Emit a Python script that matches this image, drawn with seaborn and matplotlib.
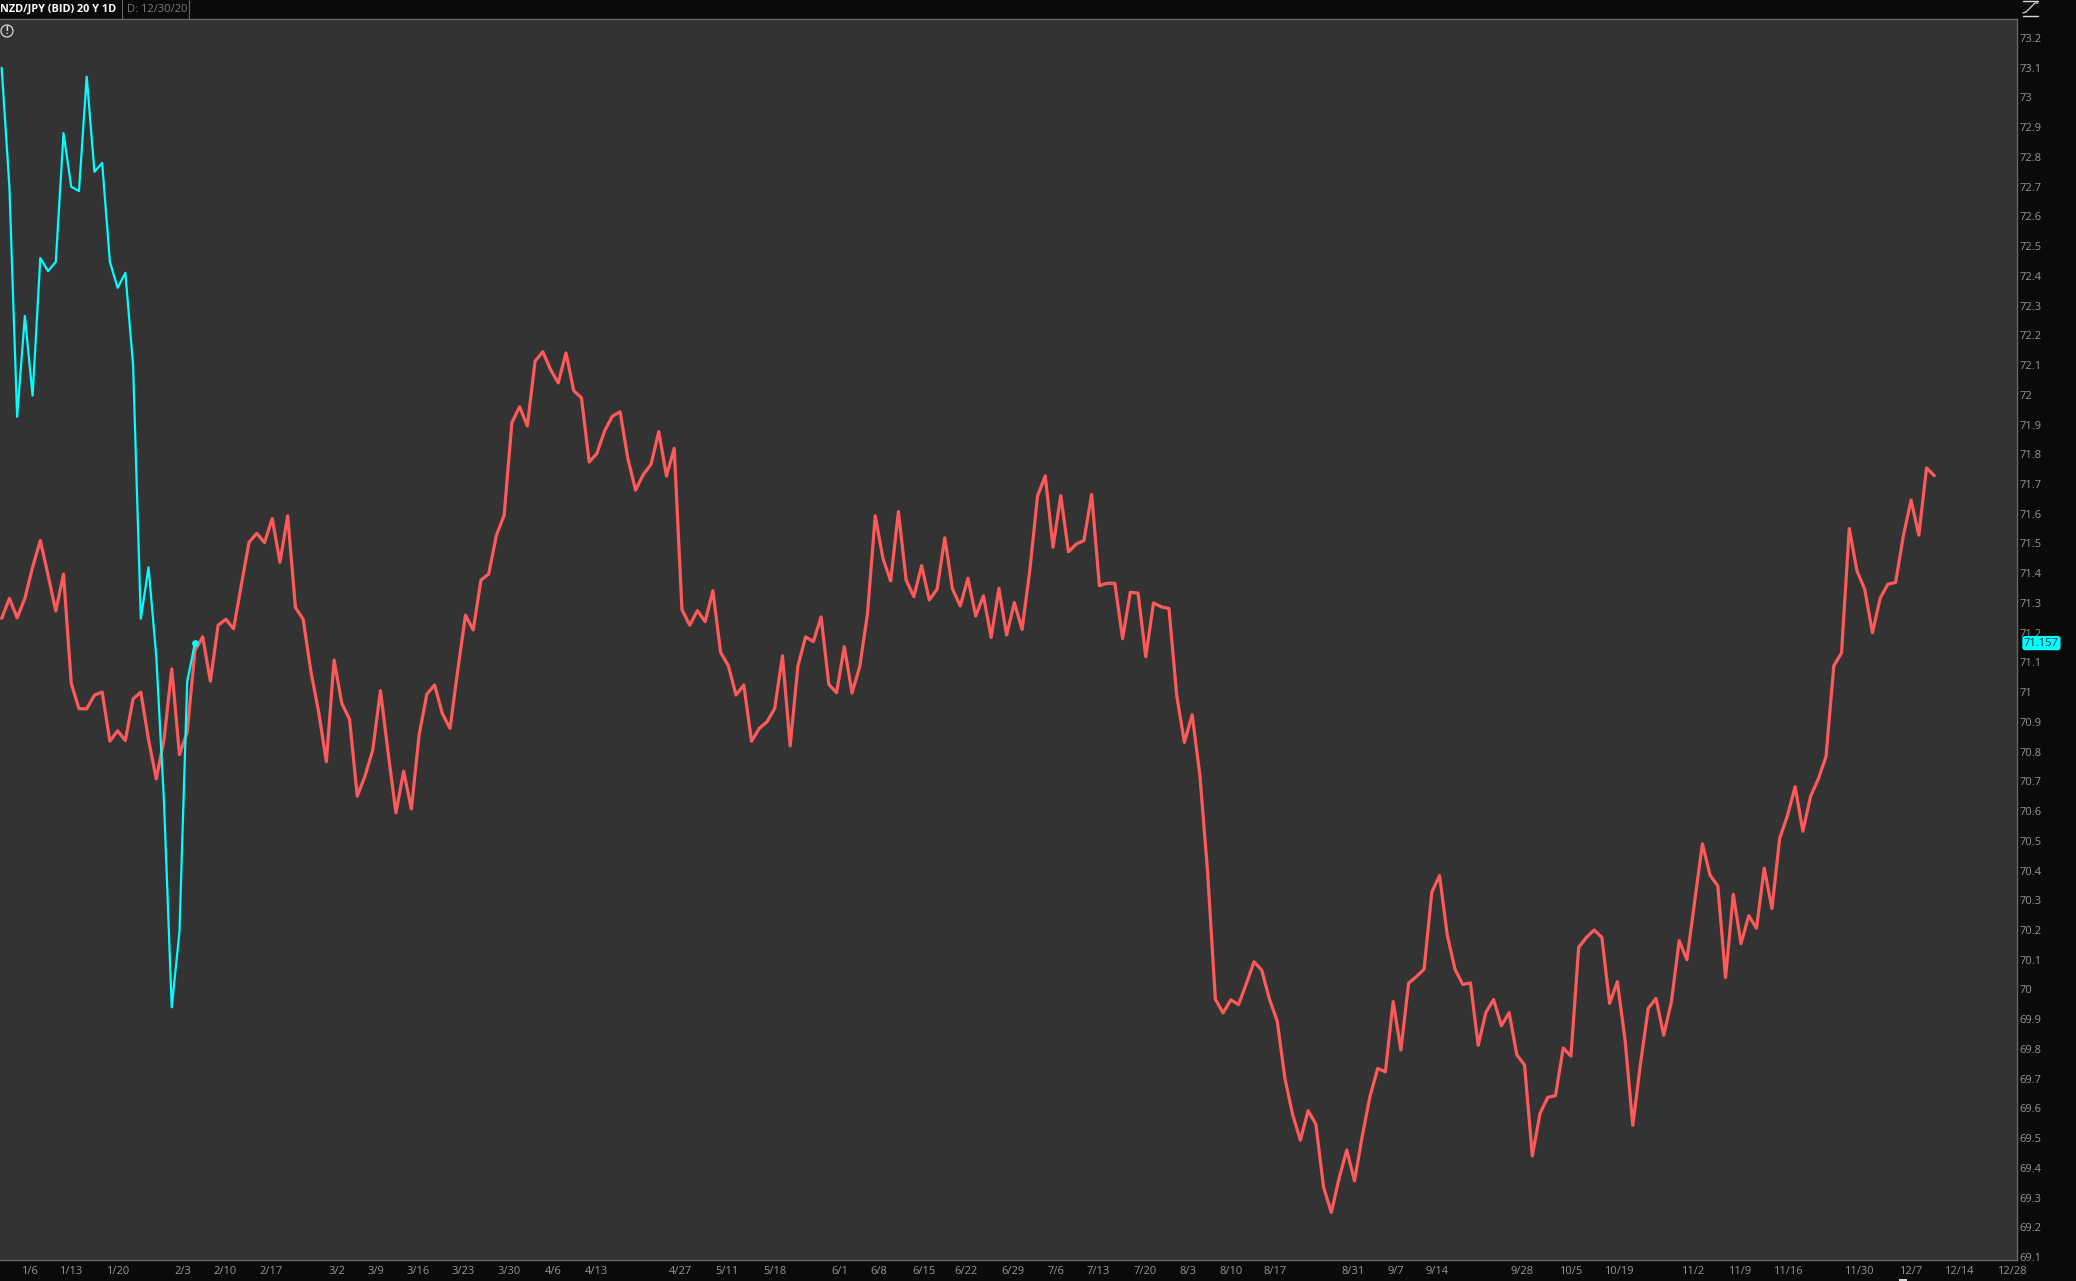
import pandas as pd
import seaborn as sns
import matplotlib.pyplot as plt
from matplotlib.lines import Line2D
from matplotlib.patches import Circle, Rectangle
from matplotlib.transforms import IdentityTransform

W, H = 2076, 1281

title = 'NZD/JPY (BID) 20 Y 1D'
date_label = 'D: 12/30/20'
last_label = '71.157'

# cyan part, bars 0-25
cyan_vals = [73.10, 72.70, 71.926, 72.265, 71.997, 72.46, 72.416, 72.447, 72.88, 72.70,
             72.685, 73.07, 72.75, 72.78, 72.447, 72.36, 72.41, 72.10, 71.247, 71.42,
             71.12, 70.63, 69.94, 70.194, 71.035, 71.165]

# red part, bars 0-250
red_vals = [71.248, 71.315, 71.25, 71.315, 71.42, 71.51, 71.394, 71.273, 71.397, 71.03,
            70.944, 70.944, 70.99, 71.0, 70.835, 70.87, 70.837, 70.977, 71.0, 70.84,
            70.708, 70.84, 71.078, 70.79, 70.865, 71.14, 71.186, 71.037, 71.225, 71.245,
            71.213, 71.36, 71.504, 71.534, 71.503, 71.584, 71.437, 71.593, 71.285, 71.245,
            71.07, 70.934, 70.766, 71.108, 70.962, 70.909, 70.65, 70.718, 70.805, 71.005,
            70.794, 70.594, 70.734, 70.607, 70.856, 70.993, 71.024, 70.928, 70.878, 71.074,
            71.259, 71.209, 71.377, 71.397, 71.528, 71.595, 71.906, 71.96, 71.895, 72.113,
            72.145, 72.085, 72.04, 72.141, 72.014, 71.99, 71.774, 71.803, 71.879, 71.928,
            71.943, 71.786, 71.679, 71.732, 71.766, 71.876, 71.727, 71.82, 71.278, 71.225,
            71.274, 71.237, 71.341, 71.134, 71.089, 70.99, 71.024, 70.835, 70.878, 70.9,
            70.945, 71.122, 70.819, 71.088, 71.186, 71.17, 71.253, 71.026, 70.998, 71.153,
            70.997, 71.086, 71.263, 71.593, 71.45, 71.374, 71.607, 71.377, 71.321, 71.425,
            71.31, 71.346, 71.519, 71.347, 71.29, 71.383, 71.256, 71.324, 71.184, 71.349,
            71.192, 71.301, 71.211, 71.41, 71.66, 71.727, 71.487, 71.661, 71.472, 71.498,
            71.51, 71.665, 71.358, 71.366, 71.366, 71.18, 71.336, 71.333, 71.119, 71.30,
            71.287, 71.281, 70.989, 70.831, 70.924, 70.72, 70.394, 69.967, 69.921, 69.965,
            69.949, 70.019, 70.093, 70.065, 69.967, 69.894, 69.701, 69.579, 69.493, 69.592,
            69.547, 69.335, 69.25, 69.364, 69.46, 69.356, 69.506, 69.64, 69.734, 69.723,
            69.959, 69.796, 70.021, 70.043, 70.068, 70.327, 70.383, 70.183, 70.068, 70.017,
            70.022, 69.812, 69.923, 69.966, 69.878, 69.922, 69.78, 69.746, 69.44, 69.583,
            69.637, 69.643, 69.803, 69.776, 70.142, 70.175, 70.2, 70.175, 69.953, 70.026,
            69.83, 69.543, 69.751, 69.936, 69.97, 69.846, 69.96, 70.164, 70.10, 70.296,
            70.49, 70.384, 70.348, 70.04, 70.32, 70.154, 70.248, 70.206, 70.408, 70.272,
            70.508, 70.584, 70.682, 70.532, 70.65, 70.708, 70.784, 71.088, 71.132, 71.55,
            71.408, 71.346, 71.2, 71.316, 71.363, 71.369, 71.526, 71.646, 71.528, 71.754,
            71.728]

date_ticks = ['1/6', '1/13', '1/20', '2/3', '2/10', '2/17', '3/2', '3/9', '3/16', '3/23',
              '3/30', '4/6', '4/13', '4/27', '5/11', '5/18', '6/1', '6/8', '6/15', '6/22',
              '6/29', '7/6', '7/13', '7/20', '8/3', '8/10', '8/17', '8/31', '9/7', '9/14',
              '9/28', '10/5', '10/19', '11/2', '11/9', '11/16', '11/30', '12/7', '12/14', '12/28']
date_bars = [3.55, 8.9, 15, 23.4, 28.9, 34.9, 43.4, 48.4, 53.9, 59.7,
             65.7, 71.4, 77, 87.8, 93.8, 100, 108.4, 113.5, 119.3, 124.8,
             130.8, 136.4, 141.9, 147.9, 153.4, 159, 164.7, 174.8, 180.4, 185.7,
             196.7, 202.9, 209.2, 218.8, 224.8, 231.1, 240.2, 246.9, 253.2, 260]

price_ticks = [69.1, 69.2, 69.3, 69.4, 69.5, 69.6, 69.7, 69.8, 69.9, 70,
               70.1, 70.2, 70.3, 70.4, 70.5, 70.6, 70.7, 70.8, 70.9, 71,
               71.1, 71.2, 71.3, 71.4, 71.5, 71.6, 71.7, 71.8, 71.9, 72,
               72.1, 72.2, 72.3, 72.4, 72.5, 72.6, 72.7, 72.8, 72.9, 73,
               73.1, 73.2]

BG = '#0a0a0a'
PANEL = '#333333'
EDGE = '#666666'
LABEL = '#969696'
ICON = '#d8d8d8'
RED = '#ff5a5a'
CYAN = '#00ffff'

sns.set_theme(style='dark', rc={'figure.facecolor': BG, 'axes.facecolor': PANEL})
plt.rcParams['font.family'] = ['Open Sans', 'DejaVu Sans']

red = pd.DataFrame({'bar': range(len(red_vals)), 'price': red_vals})
cyan = pd.DataFrame({'bar': range(len(cyan_vals)), 'price': cyan_vals})

fig = plt.figure(figsize=(W / 100, H / 100), dpi=100)
# panel runs 0-2017 px across, 19-1260 px down
ax = fig.add_axes([0, 1 - 1260 / H, 2017 / W, (1260 - 19) / H])

sns.lineplot(data=red, x='bar', y='price', color=RED, lw=2.3, estimator=None, sort=False, ax=ax)
sns.lineplot(data=cyan, x='bar', y='price', color=CYAN, lw=1.6, estimator=None, sort=False, ax=ax)
sns.scatterplot(data=cyan.tail(1), x='bar', y='price', color=CYAN, s=24, linewidth=0, ax=ax, zorder=5)

ax.set_xlim(-0.216, 260.7)
ax.set_ylim(69.09, 73.264)
ax.set_xlabel('')
ax.set_ylabel('')
ax.grid(False)

ax.set_xticks(date_bars)
ax.set_xticklabels(date_ticks)
ax.yaxis.tick_right()
ax.set_yticks(price_ticks)
ax.set_yticklabels([f'{p:g}' for p in price_ticks])
ax.tick_params(axis='x', length=0, pad=4, labelsize=8, labelcolor=LABEL)
ax.tick_params(axis='y', length=0, pad=2, labelsize=8, labelcolor=LABEL)

for side, spine in ax.spines.items():
    spine.set_visible(side in ('top', 'right', 'bottom'))
    spine.set_color(EDGE)
    spine.set_linewidth(1)

# last price tag
ax.text(1 + 7 / 2017, cyan_vals[-1], last_label, transform=ax.get_yaxis_transform(),
        ha='left', va='center', fontsize=8, color='#0a3a3a', clip_on=False,
        bbox=dict(boxstyle='round,pad=0.15,rounding_size=0.25', fc=CYAN, ec='none'))

# header strip
fig.text(0 / W, 1 - 9.5 / H, title, color='white', fontsize=7.8, fontweight='bold', va='center', ha='left')
fig.text(127 / W, 1 - 9.5 / H, date_label, color='#7a7a7a', fontsize=8, va='center', ha='left')
for px in (122, 189):
    fig.add_artist(Line2D([px / W, px / W], [1 - 19 / H, 1], color=EDGE, lw=0.8))

# info icon, top left of the panel
fig.add_artist(Circle((7, H - 31), 6, transform=IdentityTransform(), fc='none', ec=ICON, lw=0.9))
fig.text(7 / W, 1 - 31 / H, '!', color=ICON, fontsize=7, fontweight='bold', ha='center', va='center')

# study icon, top right
for py in (1, 16):
    fig.add_artist(Line2D([2023 / W, 2038 / W], [1 - py / H, 1 - py / H], color=ICON, lw=1))
fig.add_artist(Line2D([px / W for px in (2023, 2026, 2029, 2032, 2035, 2038)],
                      [1 - py / H for py in (13, 12, 9, 6, 3, 3)], color=ICON, lw=0.9))

# scrap of the scrollbar handle cut off by the bottom edge
fig.add_artist(Rectangle((1899, 0), 8, 2, transform=IdentityTransform(), fc=ICON, ec='none'))

fig.savefig('out.png', dpi=100, facecolor=BG)
